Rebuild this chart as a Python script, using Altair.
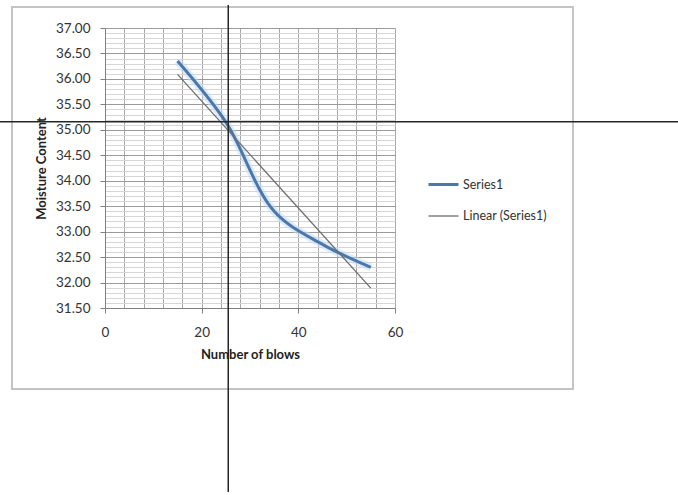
import altair as alt
import pandas as pd

# ---- data ----
blows = [15, 25, 35, 45, 55]
moisture = [36.35, 35.15, 33.4, 32.75, 32.3]
series_names = ["Series1", "Linear (Series1)"]

x_tick_values = list(range(0, 61, 4))
y_tick_values = [round(31.5 + 0.1 * i, 1) for i in range(56)]

crosshair_x = [25.5]
crosshair_y = [35.16]

df = pd.DataFrame({"blows": blows, "moisture": moisture})

FONT = "Lato"
x_scale = alt.Scale(domain=[0, 60], nice=False, zero=False)
y_scale = alt.Scale(domain=[31.5, 37], nice=False, zero=False)

MAJOR_Y = "abs(datum.value * 2 - round(datum.value * 2)) < 0.001"

x_axis = alt.Axis(
    values=x_tick_values,
    tickCount=200,
    labelOverlap=False,
    labelFlush=False,
    format="d",
    labelExpr="datum.value % 20 === 0 ? datum.label : ''",
    title="Number of blows",
    grid=True,
    gridColor="#a8a8a8",
    gridWidth=1,
    tickSize=5,
    tickColor={"condition": {"test": "datum.value % 20 === 0", "value": "#808080"}, "value": "transparent"},
    labelPadding=12,
    titlePadding=10,
    domainColor="#808080",
)
y_axis = alt.Axis(
    values=y_tick_values,
    tickCount=200,
    labelOverlap=False,
    labelFlush=False,
    labelExpr=MAJOR_Y + " ? format(datum.value, '.2f') : ''",
    title="Moisture Content",
    grid=True,
    gridColor={"condition": {"test": MAJOR_Y, "value": "#9a9a9a"}, "value": "#d6d6d6"},
    gridWidth=1,
    tickSize=5,
    tickColor={"condition": {"test": MAJOR_Y, "value": "#808080"}, "value": "transparent"},
    labelPadding=10,
    titlePadding=7,
    domainColor="#808080",
)

color_scale = alt.Scale(domain=series_names, range=["#4a78ad", "#6e6e6e"])
width_scale = alt.Scale(domain=series_names, range=[3, 1.3])

base = alt.Chart(df)

frame = alt.Chart(alt.Data(values=[{"f": 1}])).mark_rect(
    filled=False, stroke="#c4c4c4", strokeWidth=2
).encode(x=alt.value(-93), x2=alt.value(468), y=alt.value(-21), y2=alt.value(361))

glow = base.mark_line(interpolate="catmull-rom", color="#c4dcf2", strokeWidth=8, opacity=0.55).encode(
    x=alt.X("blows:Q", scale=x_scale, axis=x_axis),
    y=alt.Y("moisture:Q", scale=y_scale, axis=y_axis),
)

main = base.transform_calculate(series="'Series1'").mark_line(interpolate="catmull-rom").encode(
    x=alt.X("blows:Q"),
    y=alt.Y("moisture:Q"),
    color=alt.Color("series:N", scale=color_scale, title=None),
    strokeWidth=alt.StrokeWidth("series:N", scale=width_scale, title=None),
)

trend = base.transform_regression("blows", "moisture").transform_calculate(
    series="'Linear (Series1)'"
).mark_line().encode(
    x=alt.X("blows:Q"),
    y=alt.Y("moisture:Q"),
    color=alt.Color("series:N", scale=color_scale, title=None),
    strokeWidth=alt.StrokeWidth("series:N", scale=width_scale, title=None),
)

vline = alt.Chart(pd.DataFrame({"blows": crosshair_x})).mark_rule(color="#262626", strokeWidth=1.5).encode(
    x=alt.X("blows:Q"), y=alt.value(-23), y2=alt.value(464)
)
hline = alt.Chart(pd.DataFrame({"moisture": crosshair_y})).mark_rule(color="#262626", strokeWidth=1.5).encode(
    y=alt.Y("moisture:Q"), x=alt.value(-105), x2=alt.value(573)
)

chart = alt.layer(frame, glow, main, trend, vline, hline).properties(
    width=290,
    height=280,
    padding={"left": 105, "top": 28, "right": 283, "bottom": 187},
    autosize=alt.AutoSizeParams(type="none"),
    background="white",
).configure_view(stroke=None).configure_axis(
    labelFont=FONT, labelFontSize=13.5, labelColor="#333333",
    titleFont=FONT, titleFontSize=13, titleFontWeight="bold", titleColor="#222222",
).configure_legend(
    orient="none", legendX=322, legendY=140, padding=0,
    symbolType="stroke", symbolSize=900, labelFont=FONT, labelFontSize=12.5,
    labelColor="#333333", labelOffset=3, rowPadding=9,
)

chart.save("out.html", embed_options={"renderer": "svg", "actions": False})
